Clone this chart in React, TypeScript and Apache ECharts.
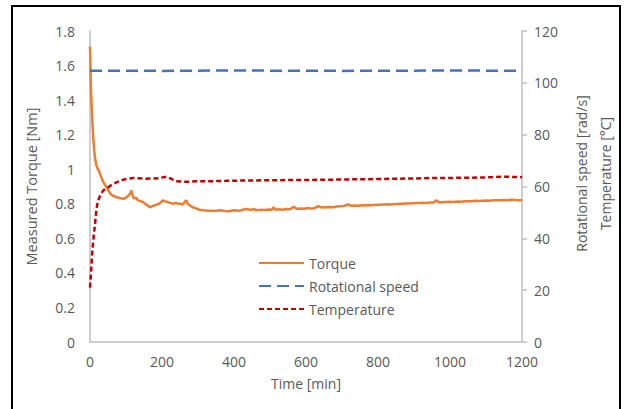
import React, { useEffect, useRef } from "react";
import * as echarts from "echarts";

const torqueTime = [0, 1, 2, 3, 5, 7, 9, 12, 15, 18, 22, 25, 30, 36, 43, 50, 57, 65, 75, 85, 94, 100, 107, 112, 115, 118, 122, 128, 133, 140, 147, 153, 160, 166, 172, 178, 185, 192, 198, 202, 208, 215, 222, 230, 238, 245, 252, 258, 263, 267, 271, 278, 285, 293, 303, 315, 330, 345, 360, 375, 386, 400, 415, 432, 445, 455, 465, 475, 485, 495, 505, 510, 515, 525, 535, 545, 555, 566, 575, 585, 595, 605, 615, 625, 634, 645, 655, 665, 675, 685, 695, 705, 717, 725, 735, 745, 755, 765, 775, 785, 795, 805, 815, 825, 835, 845, 855, 865, 875, 885, 895, 905, 915, 925, 935, 945, 955, 961, 970, 980, 990, 1000, 1010, 1020, 1030, 1040, 1050, 1060, 1070, 1080, 1090, 1100, 1110, 1120, 1130, 1140, 1150, 1160, 1170, 1180, 1190, 1200];
const torqueValues = [1.71, 1.62, 1.52, 1.44, 1.34, 1.26, 1.18, 1.10, 1.05, 1.02, 1.0, 0.99, 0.96, 0.93, 0.905, 0.88, 0.857, 0.845, 0.838, 0.832, 0.829, 0.835, 0.848, 0.86, 0.877, 0.85, 0.83, 0.835, 0.82, 0.815, 0.81, 0.80, 0.79, 0.78, 0.785, 0.79, 0.795, 0.80, 0.81, 0.82, 0.815, 0.81, 0.805, 0.80, 0.805, 0.80, 0.80, 0.795, 0.81, 0.82, 0.80, 0.79, 0.78, 0.775, 0.766, 0.762, 0.76, 0.758, 0.762, 0.758, 0.757, 0.762, 0.76, 0.77, 0.765, 0.768, 0.763, 0.766, 0.764, 0.767, 0.765, 0.78, 0.766, 0.768, 0.765, 0.77, 0.768, 0.782, 0.77, 0.772, 0.771, 0.775, 0.772, 0.776, 0.786, 0.778, 0.78, 0.782, 0.78, 0.784, 0.785, 0.787, 0.797, 0.788, 0.79, 0.789, 0.791, 0.79, 0.793, 0.792, 0.794, 0.795, 0.796, 0.797, 0.796, 0.798, 0.799, 0.8, 0.801, 0.802, 0.803, 0.804, 0.804, 0.806, 0.805, 0.807, 0.808, 0.82, 0.808, 0.81, 0.811, 0.812, 0.811, 0.813, 0.812, 0.814, 0.815, 0.815, 0.817, 0.816, 0.818, 0.819, 0.818, 0.82, 0.821, 0.82, 0.822, 0.821, 0.823, 0.822, 0.82, 0.821];

const speedTime = [0, 100, 200, 300, 400, 500, 600, 700, 800, 900, 1000, 1100, 1200];
const speedValues = [104.7, 104.7, 104.6, 104.7, 104.8, 104.7, 104.7, 104.6, 104.7, 104.7, 104.8, 104.7, 104.7];

const tempTime = [0, 2, 4, 6, 8, 10, 14, 17, 20, 25, 30, 37, 45, 52, 62, 75, 90, 103, 121, 156, 190, 212, 225, 239, 265, 294, 330, 380, 432, 500, 550, 600, 650, 700, 750, 800, 850, 900, 950, 1000, 1050, 1100, 1150, 1200];
const tempValues = [21, 25, 29.5, 34, 37.5, 40.5, 45.6, 50, 53, 55.5, 57, 58.5, 59.3, 59.8, 60.8, 61.7, 62.5, 63, 63.3, 63, 63.2, 63.8, 63, 62, 61.8, 62, 62, 62.2, 62.3, 62.4, 62.5, 62.5, 62.6, 62.7, 62.8, 62.9, 63, 63.1, 63.3, 63.3, 63.4, 63.5, 63.8, 63.6];

const seriesNames = ["Torque", "Rotational speed", "Temperature"];
const xTitle = "Time [min]";
const leftTitle = "Measured Torque [Nm]";
const rightTitle = "Rotational speed [rad/s]\nTemperature [°C]";

const FONT = "Open Sans";
const TXT = "#595959";
const AX = "#bfbfbf";

export default function App() {
  const ref = useRef<HTMLDivElement>(null);
  useEffect(() => {
    if (!ref.current) return;
    const chart = echarts.init(ref.current, undefined, { renderer: "svg" });
    const pair = (t: number[], v: number[]) => t.map((x, i) => [x, v[i]]);
    chart.setOption({
      animation: false,
      backgroundColor: "#ffffff",
      textStyle: { fontFamily: FONT },
      grid: { left: 90, right: 100, top: 31, bottom: 67, containLabel: false },
      legend: {
        left: 253,
        top: 251,
        orient: "vertical",
        itemWidth: 45,
        itemHeight: 14,
        itemGap: 9,
        itemStyle: { opacity: 0 },
        textStyle: { color: TXT, fontSize: 14, fontFamily: FONT },
        data: seriesNames,
      },
      xAxis: {
        type: "value",
        min: 0,
        max: 1200,
        interval: 200,
        name: xTitle,
        nameLocation: "middle",
        nameGap: 34,
        nameTextStyle: { color: TXT, fontSize: 14, fontFamily: FONT },
        axisLine: { show: true, lineStyle: { color: AX, width: 1.5 } },
        axisTick: { show: false },
        splitLine: { show: false },
        axisLabel: { color: TXT, fontSize: 14, margin: 12, fontFamily: FONT, formatter: (v: number) => String(v) },
      },
      yAxis: [
        {
          type: "value",
          min: 0,
          max: 1.8,
          interval: 0.2,
          position: "left",
          name: leftTitle,
          nameLocation: "middle",
          nameGap: 51,
          nameTextStyle: { color: TXT, fontSize: 14.5, fontFamily: FONT },
          axisLine: { show: true, lineStyle: { color: AX, width: 1.5 } },
          axisTick: { show: false },
          splitLine: { show: false },
          axisLabel: { color: TXT, fontSize: 14, margin: 15, fontFamily: FONT },
        },
        {
          type: "value",
          min: 0,
          max: 120,
          interval: 20,
          position: "right",
          name: rightTitle,
          nameLocation: "middle",
          nameGap: 35,
          nameTextStyle: { color: TXT, fontSize: 14, fontFamily: FONT, lineHeight: 24, padding: [0, 0, 0, 26] },
          axisLine: { show: true, lineStyle: { color: AX, width: 1.5 } },
          axisTick: { show: true, inside: false, length: 5, lineStyle: { color: AX, width: 1.5 } },
          splitLine: { show: false },
          axisLabel: { color: TXT, fontSize: 14, margin: 12, fontFamily: FONT },
        },
      ],
      series: [
        {
          name: seriesNames[0],
          type: "line",
          yAxisIndex: 0,
          data: pair(torqueTime, torqueValues),
          symbol: "none",
          lineStyle: { color: "#ED7D31", width: 2.5 },
          itemStyle: { color: "#ED7D31" },
        },
        {
          name: seriesNames[1],
          type: "line",
          yAxisIndex: 1,
          data: pair(speedTime, speedValues),
          symbol: "none",
          lineStyle: { color: "#4472C4", width: 2.5, type: [12, 6] },
          itemStyle: { color: "#4472C4" },
        },
        {
          name: seriesNames[2],
          type: "line",
          yAxisIndex: 1,
          data: pair(tempTime, tempValues),
          symbol: "none",
          lineStyle: { color: "#C00000", width: 2.5, type: [5, 3] },
          itemStyle: { color: "#C00000" },
        },
      ],
      graphic: [
        {
          type: "rect",
          shape: { x: 12, y: 6, width: 608, height: 430 },
          style: { fill: "none", stroke: "#000000", lineWidth: 2 },
          silent: true,
        },
      ],
    });
    return () => chart.dispose();
  }, []);
  return (
    <div
      ref={ref}
      style={{ position: "fixed", left: 0, top: 0, width: 625, height: 409 }}
    />
  );
}
